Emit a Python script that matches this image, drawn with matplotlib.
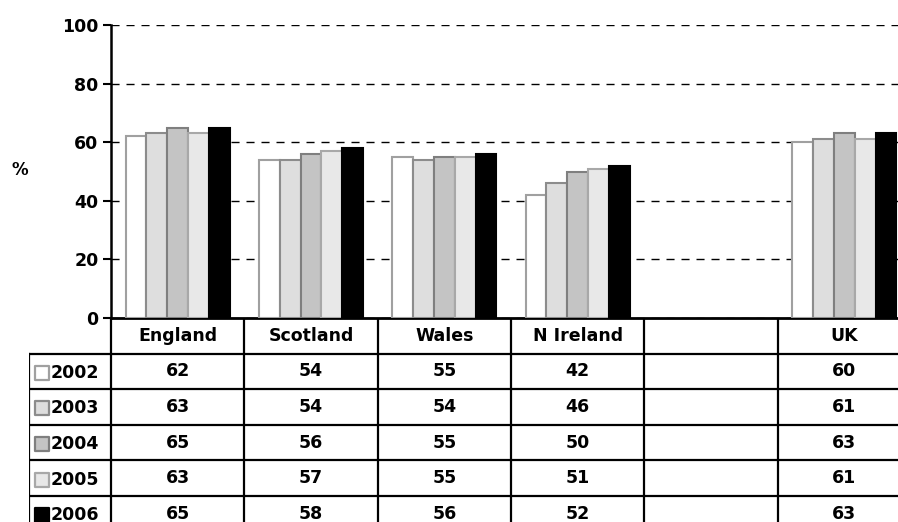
import numpy as np
import matplotlib
matplotlib.use('Agg')
import matplotlib.pyplot as plt

plt.rcParams['font.family'] = ['DejaVu Sans']
plt.rcParams['font.weight'] = 'bold'

# 表格欄位（第五欄為空白）
columns = ['England', 'Scotland', 'Wales', 'N Ireland', '', 'UK']
regions = ['England', 'Scotland', 'Wales', 'N Ireland', 'UK']
years = ['2002', '2003', '2004', '2005', '2006']

v2002 = [62, 54, 55, 42, 60]
v2003 = [63, 54, 54, 46, 61]
v2004 = [65, 56, 55, 50, 63]
v2005 = [63, 57, 55, 51, 61]
v2006 = [65, 58, 56, 52, 63]
values = [v2002, v2003, v2004, v2005, v2006]

# 各年份的填色與框線
fills = ['#ffffff', '#dedede', '#c4c4c4', '#e8e8e8', '#000000']
edges = ['#a0a0a0', '#8c8c8c', '#7f7f7f', '#a8a8a8', '#000000']

FS = 12.5
W, H = 898, 522
fig = plt.figure(figsize=(W / 100, H / 100), dpi=100)

col_w = 133.33
left_px, base_px, top_px = 111, 318, 25
ax = fig.add_axes([left_px / W, (H - base_px) / H,
                   6 * col_w / W, (base_px - top_px) / H])

pos = [columns.index(r) for r in regions]
bw = 0.156
for i, vals in enumerate(values):
    xs = np.array(pos) + (i - 2) * bw
    ax.bar(xs, vals, width=bw, color=fills[i], edgecolor=edges[i],
           linewidth=1.5, zorder=3)

ax.set_xlim(-0.5, 5.5)
ax.set_ylim(0, 100)
ax.set_yticks([0, 20, 40, 60, 80, 100])
ax.set_xticks([])
ax.tick_params(axis='y', direction='out', length=6, width=1.5, labelsize=FS, pad=3)
for t in ax.get_yticklabels():
    t.set_fontweight('bold')
ax.yaxis.grid(True, color='black', linestyle=(0, (5.8, 5)), linewidth=1.0, zorder=0)
ax.spines['top'].set_visible(False)
ax.spines['right'].set_visible(False)
ax.spines['left'].set_linewidth(1.8)
ax.spines['bottom'].set_linewidth(2)
fig.text(20 / W, 1 - 170 / H, '%', fontsize=FS - 0.5, fontweight='bold', ha='center', va='center')

# 下方資料表
row_h = 35.6
leg_px = 29
n_rows = 6
tleft = -0.5 - (left_px - leg_px) / col_w
tax = fig.add_axes([leg_px / W, (H - base_px - n_rows * row_h) / H,
                    (6 * col_w + left_px - leg_px) / W, n_rows * row_h / H])
tax.set_xlim(tleft, 5.5)
tax.set_ylim(n_rows, 0)
tax.axis('off')

lw = 1.6
for r in range(1, n_rows + 1):
    tax.plot([tleft, 5.5], [r, r], color='black', lw=lw, solid_capstyle='projecting')
for k in range(7):
    tax.plot([k - 0.5, k - 0.5], [0, n_rows], color='black', lw=lw)
tax.plot([tleft, tleft], [1, n_rows], color='black', lw=lw)

for j, c in enumerate(columns):
    tax.text(j, 0.5, c, ha='center', va='center', fontsize=FS, fontweight='bold')

for i, y in enumerate(years):
    r = i + 1.5
    tax.scatter([tleft + 0.095], [r + 0.04], marker='s', s=105, c=fills[i],
                edgecolors=edges[i], linewidths=1.6, zorder=3)
    tax.text(tleft + 0.165, r + 0.04, y, ha='left', va='center', fontsize=FS, fontweight='bold')
    for p, v in zip(pos, values[i]):
        tax.text(p, r, str(v), ha='center', va='center', fontsize=FS, fontweight='bold')

fig.savefig('out.png', dpi=100)
